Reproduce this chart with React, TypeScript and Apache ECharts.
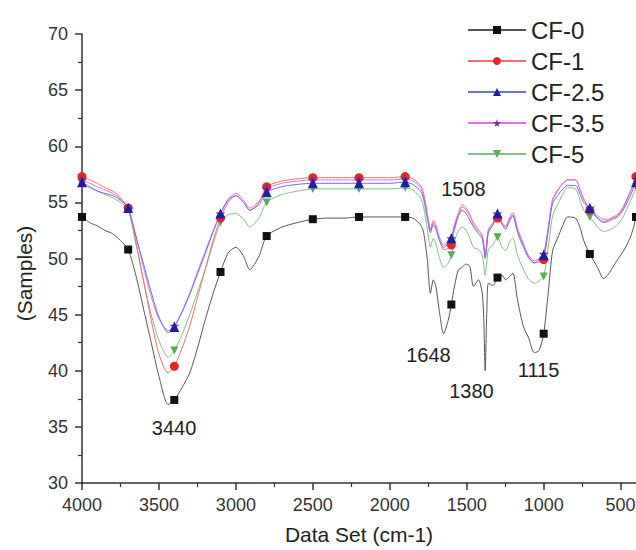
import React, { useEffect, useRef } from "react";
import * as echarts from "echarts";

const seriesNames = ["CF-0", "CF-1", "CF-2.5", "CF-3.5", "CF-5"];

const wavenumbers = [
  4000, 3950, 3900, 3850, 3800, 3750, 3700, 3650, 3600, 3550, 3500, 3440, 3400, 3350, 3300, 3250, 3200, 3150, 3100, 3050,
  3000, 2950, 2910, 2850, 2800, 2700, 2600, 2500, 2400, 2300, 2200, 2100, 2000, 1900, 1850, 1800, 1780, 1756, 1736, 1717,
  1700, 1680, 1650, 1620, 1600, 1580, 1554, 1530, 1508, 1480, 1456, 1424, 1400, 1390, 1380, 1370, 1359, 1330, 1300, 1270,
  1248, 1220, 1200, 1170, 1131, 1100, 1060, 1030, 1000, 970, 942, 910, 880, 845, 793, 760, 740, 700, 650, 610,
  580, 552, 520, 480, 440, 415, 400,
];

const cf0 = [
  53.7, 53.2, 52.9, 52.5, 52.2, 51.6, 50.8, 48.5, 45.5, 42.5, 39.5, 37.0, 37.4, 38.5, 39.8, 42.0, 44.5, 46.8, 48.8, 50.5,
  51.0, 50.2, 49.0, 50.2, 52.0, 52.8, 53.2, 53.5, 53.6, 53.6, 53.7, 53.7, 53.7, 53.7, 53.6, 53.0, 52.3, 49.9, 46.9, 48.1,
  47.5, 45.5, 43.3, 44.5, 45.9, 47.5, 49.0, 49.2, 49.5, 49.3, 47.5, 48.1, 47.0, 45.0, 40.0, 45.0, 47.8, 47.6, 48.3, 48.5,
  48.1, 48.4, 48.7, 46.3, 43.9, 43.0, 41.6, 41.8, 43.3, 47.0, 50.7, 51.8, 52.8, 53.7, 53.6, 52.6, 51.6, 50.4, 49.2, 48.2,
  48.6, 49.2, 49.9, 50.7, 51.8, 52.8, 53.7,
];

const cf1 = [
  57.3, 57.0, 56.7, 56.3, 56.0, 55.4, 54.5, 51.5, 48.0, 44.5, 41.5, 39.8, 40.4, 42.0, 44.0, 46.5, 49.0, 51.5, 53.6, 55.0,
  55.6, 55.0, 54.3, 55.0, 56.4, 56.9, 57.1, 57.2, 57.2, 57.2, 57.2, 57.2, 57.2, 57.3, 57.1, 56.5, 55.8, 54.0, 52.5, 53.2,
  52.8, 51.8, 50.8, 50.9, 51.2, 52.5, 53.8, 54.6, 54.4, 53.8, 53.0, 52.4, 52.0, 51.3, 50.2, 51.3, 52.5, 53.0, 53.6, 53.0,
  52.8, 53.5, 53.9, 52.5, 51.2, 50.2, 49.6, 49.7, 49.9, 52.5, 55.2, 56.0, 56.6, 57.0, 57.0, 56.0, 55.3, 54.3, 53.6, 53.3,
  53.4, 53.6, 53.8, 54.6, 55.8, 56.7, 57.3,
];

const cf25 = [
  56.8, 56.4, 56.0, 55.8, 55.6, 55.2, 54.5, 52.0, 49.5, 47.0, 44.8, 43.4, 43.9, 45.2, 46.8, 48.6, 50.4, 52.3, 54.0, 55.2,
  55.6, 55.0, 54.3, 54.8, 55.9, 56.4, 56.6, 56.7, 56.7, 56.7, 56.7, 56.7, 56.7, 56.8, 56.6, 56.0, 55.3, 53.6, 52.3, 53.0,
  52.6, 51.7, 51.0, 51.3, 51.8, 52.8, 53.8, 54.3, 54.1, 53.4, 52.8, 52.2, 51.8, 51.0, 50.0, 51.0, 52.3, 53.0, 54.0, 53.1,
  52.6, 53.4, 53.8, 52.3, 51.0, 50.1, 49.6, 49.9, 50.3, 52.6, 54.9, 55.6, 56.1, 56.5, 56.5, 55.6, 55.0, 54.5, 53.6, 53.2,
  53.3, 53.5, 53.7, 54.4, 55.5, 56.3, 56.8,
];

const cf35 = [
  57.0, 56.7, 56.4, 56.1, 55.8, 55.3, 54.5, 52.0, 49.2, 46.6, 44.6, 43.6, 44.0, 45.3, 46.9, 48.8, 50.6, 52.4, 54.0, 55.3,
  55.8, 55.2, 54.5, 55.1, 56.2, 56.7, 56.9, 57.0, 57.0, 57.0, 57.0, 57.0, 57.0, 57.1, 56.9, 56.3, 55.6, 53.9, 52.6, 53.4,
  53.0, 52.0, 51.2, 51.4, 51.8, 53.0, 54.1, 54.8, 54.6, 53.9, 53.2, 52.6, 52.1, 51.3, 50.5, 51.4, 52.6, 53.2, 54.0, 53.2,
  52.9, 53.7, 54.1, 52.7, 51.3, 50.3, 49.8, 50.0, 50.4, 52.8, 55.3, 56.1, 56.6, 57.0, 57.0, 56.0, 55.3, 54.5, 53.8, 53.5,
  53.5, 53.7, 53.9, 54.7, 55.9, 56.6, 57.1,
];

const cf5 = [
  56.6, 56.3, 56.0, 55.7, 55.4, 55.0, 54.4, 51.3, 48.0, 45.0, 42.7, 41.2, 41.8, 43.2, 45.0, 47.0, 49.0, 51.2, 53.2, 53.9,
  54.0, 53.5, 52.8, 53.6, 55.0, 55.7, 56.0, 56.2, 56.2, 56.2, 56.2, 56.2, 56.2, 56.3, 56.1, 55.4, 54.6, 52.6, 51.0, 51.8,
  51.3, 50.2, 49.2, 49.6, 50.3, 51.5, 52.5, 52.8, 52.6, 51.8, 51.0, 50.8, 50.3, 49.5, 48.5, 49.6, 50.8, 51.2, 51.9, 51.0,
  50.7, 51.5, 51.8, 50.3, 49.0, 48.2, 47.8, 48.0, 48.4, 51.0, 53.8, 54.8, 55.6, 56.3, 56.2, 55.0, 54.3, 53.7, 52.8, 52.4,
  52.5, 52.7, 53.0, 53.8, 55.0, 55.8, 56.4,
];

const markerWavenumbers = [4000, 3700, 3400, 3100, 2800, 2500, 2200, 1900, 1600, 1300, 1000, 700, 400];

const xMajorTicks = [500, 1000, 1500, 2000, 2500, 3000, 3500, 4000];
const xMinorTicks = [750, 1250, 1750, 2250, 2750, 3250, 3750];

const peakLabels = ["3440", "1648", "1380", "1115", "1508"];
const peakLabelX = [3402, 1749, 1469, 1033, 1521];
const peakLabelY = [34.9, 41.4, 38.2, 40.1, 56.2];

const FONT = "'Liberation Sans', Arial, Helvetica, sans-serif";
const STAR = "path://M50,0 L61,35 L98,35 L68,57 L79,91 L50,70 L21,91 L32,57 L2,35 L39,35 Z";

const styles: Record<string, any> = {
  "CF-0": { line: "#555555", mark: "#111111", symbol: "rect", size: 8, rotate: 0 },
  "CF-1": { line: "#f07070", mark: "#e02828", symbol: "circle", size: 9, rotate: 0 },
  "CF-2.5": { line: "#6f6fd8", mark: "#1f1fa0", symbol: "triangle", size: 10, rotate: 0 },
  "CF-3.5": { line: "#e070e0", mark: "#7a2a9a", symbol: STAR, size: 10, rotate: 0 },
  "CF-5": { line: "#80c080", mark: "#5aaa5a", symbol: "triangle", size: 8, rotate: 180 },
};

const valuesByName: Record<string, number[]> = {
  "CF-0": cf0,
  "CF-1": cf1,
  "CF-2.5": cf25,
  "CF-3.5": cf35,
  "CF-5": cf5,
};

const drawOrder = ["CF-0", "CF-5", "CF-1", "CF-3.5", "CF-2.5"];

export default function App() {
  const ref = useRef<HTMLDivElement>(null);
  useEffect(() => {
    if (!ref.current) return;
    const chart = echarts.init(ref.current, null, { renderer: "svg" });
    const markerSet = new Set(markerWavenumbers);

    const series: any[] = drawOrder.map((name) => {
      const st = styles[name];
      const vals = valuesByName[name];
      const s: any = {
        name,
        type: "line",
        xAxisIndex: 0,
        yAxisIndex: 0,
        smooth: 0.25,
        showSymbol: true,
        showAllSymbol: true,
        symbol: st.symbol,
        symbolSize: st.size,
        symbolRotate: st.rotate,
        lineStyle: { color: st.line, width: 1 },
        itemStyle: { color: st.mark },
        emphasis: { disabled: true },
        data: wavenumbers.map((w, i) =>
          markerSet.has(w) ? { value: [w, vals[i]] } : { value: [w, vals[i]], symbol: "none" }
        ),
      };
      if (name === "CF-0") {
        s.markPoint = {
          symbol: "rect",
          symbolSize: 1,
          itemStyle: { color: "rgba(0,0,0,0)" },
          label: {
            show: true,
            position: "inside",
            formatter: "{b}",
            color: "#222",
            fontSize: 20,
            fontFamily: FONT,
          },
          data: peakLabels.map((t, i) => ({ name: t, coord: [peakLabelX[i], peakLabelY[i]] })),
        };
      }
      return s;
    });

    chart.setOption({
      animation: false,
      backgroundColor: "#ffffff",
      textStyle: { fontFamily: FONT },
      grid: { left: 82, right: 0, top: 34, bottom: 67, containLabel: false, outerBoundsMode: "none" },
      legend: {
        orient: "vertical",
        left: 462,
        top: 13,
        data: seriesNames,
        itemWidth: 58,
        itemHeight: 10,
        itemGap: 7,
        textStyle: { fontSize: 24, color: "#222", fontFamily: FONT },
      },
      xAxis: [
        {
          type: "value",
          inverse: true,
          min: 400,
          max: 4000,
          name: "Data Set (cm-1)",
          nameLocation: "middle",
          nameGap: 41,
          nameTextStyle: { fontSize: 21, color: "#222", fontFamily: FONT },
          axisLine: { show: true, lineStyle: { color: "#333", width: 1.5 } },
          axisTick: { show: true, length: 7, customValues: xMajorTicks, lineStyle: { color: "#333", width: 1.5 } },
          axisLabel: {
            customValues: xMajorTicks,
            formatter: (v: number) => String(v),
            fontSize: 18,
            color: "#333",
            margin: 13,
            fontFamily: FONT,
          },
          splitLine: { show: false },
        },
        {
          type: "value",
          inverse: true,
          min: 400,
          max: 4000,
          position: "bottom",
          axisLine: { show: false },
          axisTick: { show: true, length: 4, customValues: xMinorTicks, lineStyle: { color: "#333", width: 1.2 } },
          axisLabel: { show: false },
          splitLine: { show: false },
        },
      ],
      yAxis: {
        type: "value",
        min: 30,
        max: 70,
        interval: 5,
        name: "(Samples)",
        nameLocation: "middle",
        nameGap: 47,
        nameTextStyle: { fontSize: 21, color: "#222", fontFamily: FONT, padding: [0, 30, 0, 0] },
        axisLine: { show: true, lineStyle: { color: "#333", width: 1.5 } },
        axisTick: { show: true, length: 7, lineStyle: { color: "#333", width: 1.5 } },
        minorTick: { show: true, splitNumber: 2, length: 4, lineStyle: { color: "#333", width: 1.2 } },
        axisLabel: { fontSize: 18, color: "#333", margin: 14, fontFamily: FONT },
        splitLine: { show: false },
        minorSplitLine: { show: false },
      },
      series,
    });
    return () => chart.dispose();
  }, []);

  return (
    <div
      ref={ref}
      style={{ position: "fixed", left: 0, top: 0, width: 636, height: 550, background: "#fff" }}
    />
  );
}
